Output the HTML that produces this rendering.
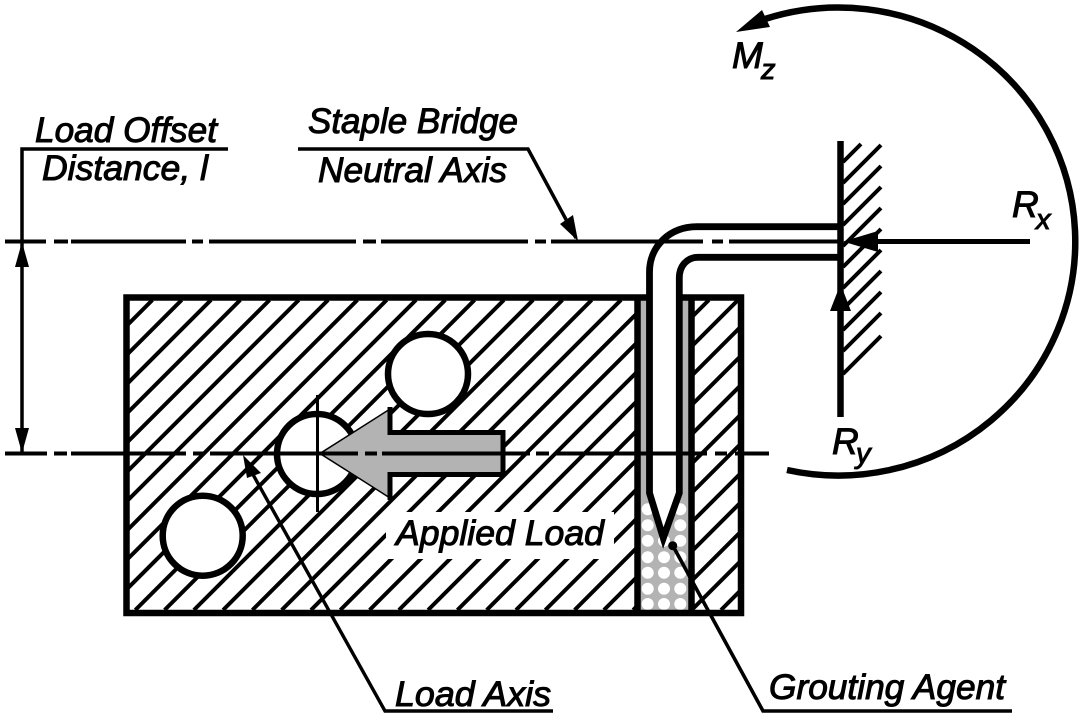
<!DOCTYPE html>
<html><head><meta charset="utf-8"><style>
html,body{margin:0;padding:0;background:#fff}
svg{display:block}
text{font-family:"Liberation Sans",sans-serif;font-style:italic;fill:#000;stroke:#000;stroke-width:1}
</style></head><body>
<svg width="1082" height="719" viewBox="0 0 1082 719" xmlns="http://www.w3.org/2000/svg">
<defs>
<clipPath id="hc"><rect x="129" y="300" width="506" height="311"/><rect x="694" y="300" width="45" height="311"/></clipPath>
<clipPath id="gc"><rect x="640" y="300" width="49" height="310"/></clipPath>
</defs>
<rect width="1082" height="719" fill="#fff"/>
<!-- hatch -->
<path clip-path="url(#hc)" stroke="#000" stroke-width="4" fill="none" d="M152.4 300L-157.6 610M181.7 300L-128.3 610M211 300L-99 610M240.3 300L-69.7 610M269.6 300L-40.4 610M298.8 300L-11.2 610M328.1 300L18.1 610M357.4 300L47.4 610M386.7 300L76.7 610M416 300L106 610M445.3 300L135.3 610M474.6 300L164.6 610M503.9 300L193.9 610M533.1 300L223.1 610M562.4 300L252.4 610M591.7 300L281.7 610M621 300L311 610M650.3 300L340.3 610M679.6 300L369.6 610M708.9 300L398.9 610M738.1 300L428.1 610M767.4 300L457.4 610M796.7 300L486.7 610M826 300L516 610M855.3 300L545.3 610M884.6 300L574.6 610M913.9 300L603.9 610M943.1 300L633.1 610M972.4 300L662.4 610M1001.7 300L691.7 610M1031 300L721 610"/>
<rect x="386" y="512" width="228" height="47" fill="#fff"/>
<!-- grout -->
<rect x="640" y="300" width="49" height="310" fill="#b3b3b3"/>
<g clip-path="url(#gc)" fill="#fff">
<circle cx="647.7" cy="509.3" r="6"/><circle cx="680.3" cy="509.3" r="6"/>
<circle cx="647.7" cy="525.3" r="6"/><circle cx="680.3" cy="525.3" r="6"/>
<circle cx="647.7" cy="540.7" r="6"/><circle cx="664" cy="540.7" r="6"/><circle cx="680.3" cy="540.7" r="6"/>
<circle cx="647.7" cy="557.3" r="6"/><circle cx="664" cy="557.3" r="6"/><circle cx="680.3" cy="557.3" r="6"/>
<circle cx="647.7" cy="572.7" r="6"/><circle cx="664" cy="572.7" r="6"/><circle cx="680.3" cy="572.7" r="6"/>
<circle cx="647.7" cy="588.7" r="6"/><circle cx="664" cy="588.7" r="6"/><circle cx="680.3" cy="588.7" r="6"/>
<circle cx="647.7" cy="604" r="6"/><circle cx="664" cy="604" r="6"/><circle cx="680.3" cy="604" r="6"/>
</g>
<!-- block borders -->
<path d="M126.5 297.5H741V613H126.5Z M637.5 297.5V613 M691.5 297.5V613" fill="none" stroke="#000" stroke-width="6.5"/>
<!-- staple -->
<path d="M838 226.7H697C670 226.7 649.5 246 649.5 272V493L663.3 540L679.3 493V278C679.3 266 687 257.3 698 257.3H838Z" fill="#fff"/>
<path d="M838 226.7H697C670 226.7 649.5 246 649.5 272V493L663.3 538L679.3 493V278C679.3 266 687 257.3 698 257.3H838" fill="none" stroke="#000" stroke-width="6.8"/>
<!-- circles -->
<g fill="#fff" stroke="#000" stroke-width="6.5">
<circle cx="428" cy="374" r="40"/>
<circle cx="317" cy="454" r="40"/>
<circle cx="202.7" cy="535.7" r="40"/>
</g>
<path d="M317.5 395V512" stroke="#000" stroke-width="3" fill="none"/>
<!-- applied load arrow -->
<polygon points="318,453.5 390,409 390,431 503,431 503,476 390,476 390,498" fill="#b3b3b3"/>
<path d="M390 407V432.5H503V474.5H390V500" fill="none" stroke="#000" stroke-width="5"/>
<path d="M320 453.5L390 409M320 453.5L390 498" fill="none" stroke="#000" stroke-width="1.5"/>
<!-- centre lines -->
<path stroke="#000" stroke-width="4" fill="none" d="M5 241.5H46M54 241.5H68M71 241.5H186M192 241.5H203M209 241.5H356M363 241.5H376M381 241.5H528M535 241.5H546M551 241.5H703M712 241.5H723M729 241.5H840"/>
<path stroke="#000" stroke-width="4" fill="none" d="M5 453.5H47M54 453.5H67M71 453.5H186M193 453.5H204M210 453.5H358M365 453.5H377M382 453.5H530M536 453.5H549M555 453.5H707M715 453.5H727M735 453.5H769"/>
<!-- wall -->
<path d="M840.5 141V417" stroke="#000" stroke-width="6.5" fill="none"/>
<path stroke="#000" stroke-width="4" fill="none" d="M861 144L843 162M881 145L843 183M881 166L843 204M881 187L843 225M881 208L843 246M881 229L843 267M881 250L843 288M881 271L843 309M881 292L843 330M881 313L843 351M881 336L843 374"/>
<!-- reactions -->
<path d="M875 241.5H1030" stroke="#000" stroke-width="5" fill="none"/>
<polygon points="843,241.5 878,231 878,252"/>
<polygon points="840.5,284 851,311 830,311"/>
<!-- moment arc -->
<path d="M787 470A237 234 0 1 0 765 19" fill="none" stroke="#000" stroke-width="6.5"/>
<polygon points="736,32 762,10 770,27"/>
<!-- dimension -->
<path d="M228 149H22V241M22 241V453" fill="none" stroke="#000" stroke-width="3.5"/>
<polygon points="22,242 29,267 15,267"/>
<polygon points="22,453 29,428 15,428"/>
<!-- leaders -->
<path d="M298 149H528L576 238" fill="none" stroke="#000" stroke-width="3.5"/>
<polygon points="578,241 560,224 573,215"/>
<path d="M246 462L385 711H553" fill="none" stroke="#000" stroke-width="3.4"/>
<polygon points="243,455 247,478 261,473"/>
<path d="M673 546L763 711H1012" fill="none" stroke="#000" stroke-width="3.6"/>
<circle cx="672.7" cy="545.7" r="4.5"/>
<!-- labels -->
<text x="35" y="142" font-size="35" textLength="182" lengthAdjust="spacingAndGlyphs">Load Offset</text>
<text x="42" y="180" font-size="35" textLength="166" lengthAdjust="spacingAndGlyphs">Distance, l</text>
<text x="308" y="133" font-size="35" textLength="210" lengthAdjust="spacingAndGlyphs">Staple Bridge</text>
<text x="318" y="182" font-size="35" textLength="189" lengthAdjust="spacingAndGlyphs">Neutral Axis</text>
<text x="396" y="545" font-size="35" textLength="208" lengthAdjust="spacingAndGlyphs">Applied Load</text>
<text x="395" y="706" font-size="35" textLength="156" lengthAdjust="spacingAndGlyphs">Load Axis</text>
<text x="769" y="699" font-size="35" textLength="236" lengthAdjust="spacingAndGlyphs">Grouting Agent</text>
<text x="732" y="68" font-size="37">M</text>
<text x="761" y="79" font-size="29">z</text>
<text x="1012" y="217" font-size="37">R</text>
<text x="1036" y="229" font-size="29">x</text>
<text x="832" y="454" font-size="37">R</text>
<text x="856" y="463" font-size="29">y</text>
</svg>
</body></html>
